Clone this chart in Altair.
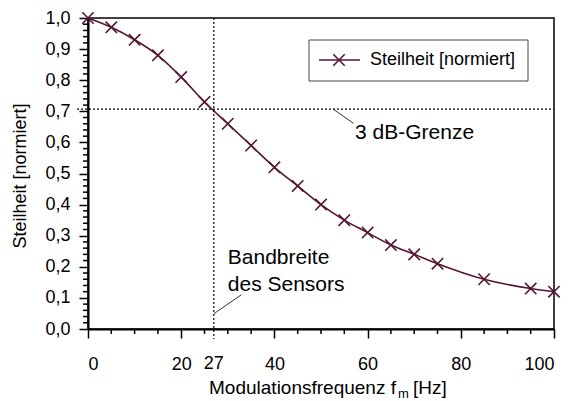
import altair as alt
import pandas as pd

# ---- data ----
freq = [0, 5, 10, 15, 20, 25, 30, 35, 40, 45, 50, 55, 60, 65, 70, 75, 85, 95, 100]
steil = [1.0, 0.97, 0.93, 0.88, 0.81, 0.73, 0.66, 0.59, 0.52, 0.46, 0.40, 0.35,
         0.31, 0.27, 0.24, 0.21, 0.16, 0.13, 0.12]
x_major = [0, 20, 40, 60, 80, 100]
x_minor = [5, 10, 15, 25, 30, 35, 45, 50, 55, 65, 70, 75, 85, 90, 95]
y_major = [0.0, 0.1, 0.2, 0.3, 0.4, 0.5, 0.6, 0.7, 0.8, 0.9, 1.0]
y_minor = [round(i * 0.02, 2) for i in range(51) if i % 5 != 0]
grenze_y = [0.707]
bandbreite_x = [27]

W, H = 466, 311
COL = "#561530"
FONT = "Liberation Sans"

df = pd.DataFrame({"f": freq, "s": steil})
one = pd.DataFrame({"a": [0]})

xs = alt.Scale(domain=[0, 100], nice=False)
ys = alt.Scale(domain=[0, 1], nice=False)

AX_X = alt.Axis(values=x_major, title=None, labelPadding=17, labelOverlap=False)
AX_Y = alt.Axis(
    values=y_major, title="Steilheit [normiert]", labelOverlap=False,
    labelExpr="replace(format(datum.value, '.1f'), '.', ',')",
    titleX=-68, titleY=H / 2 + 2, titleAngle=-90, titleAlign="center",
    titleBaseline="middle", titleFontSize=18)


def X(field):
    return alt.X(field, scale=xs, axis=AX_X)


def Y(field):
    return alt.Y(field, scale=ys, axis=AX_Y)


base = alt.Chart(df)

line = base.mark_line(color=COL, strokeWidth=1.6, interpolate="monotone").encode(
    x=X("f:Q"), y=Y("s:Q"))
XPATH = "M-1,-1L1,1M-1,1L1,-1"
pts = base.mark_point(shape=XPATH, size=130, color=COL, strokeWidth=1.6,
                      filled=False, opacity=1).encode(x=X("f:Q"), y=Y("s:Q"))

hline = alt.Chart(pd.DataFrame({"y": grenze_y})).mark_rule(
    color="black", strokeDash=[2, 2], strokeWidth=1.2).encode(
    y=Y("y:Q"), x=alt.value(-11), x2=alt.value(W))
vline = alt.Chart(pd.DataFrame({"x": bandbreite_x})).mark_rule(
    color="black", strokeDash=[2, 2], strokeWidth=1.2).encode(
    x=X("x:Q"), y=alt.value(0), y2=alt.value(H + 10))
lbl27 = alt.Chart(pd.DataFrame({"x": bandbreite_x})).mark_text(
    font=FONT, fontSize=18, baseline="top", color="black").encode(
    x=X("x:Q"), y=alt.value(H + 26), text=alt.value("27"))

xmin = alt.Chart(pd.DataFrame({"x": x_minor})).mark_rule(color="black", strokeWidth=1.5).encode(
    x=X("x:Q"), y=alt.value(H), y2=alt.value(H + 5))
ymin = alt.Chart(pd.DataFrame({"y": y_minor})).mark_rule(color="black", strokeWidth=1.5).encode(
    y=Y("y:Q"), x=alt.value(0), x2=alt.value(-5))

# annotations
ann = pd.DataFrame({
    "x": [57.3, 30.0, 30.0],
    "y": [0.611, 0.21, 0.123],
    "t": ["3 dB-Grenze", "Bandbreite", "des Sensors"],
})
ann_txt = alt.Chart(ann).mark_text(font=FONT, fontSize=21, align="left",
                                   baseline="alphabetic", color="black").encode(
    x=X("x:Q"), y=Y("y:Q"), text="t:N")
leaders = pd.DataFrame({
    "x": [52.6, 32.9], "x2": [57.0, 27.0],
    "y": [0.707, 0.11], "y2": [0.661, 0.049],
})
lead = alt.Chart(leaders).mark_rule(color="black", strokeWidth=0.8).encode(
    x=X("x:Q"), x2="x2:Q", y=Y("y:Q"), y2="y2:Q")

# legend
leg_box = alt.Chart(one).mark_rect(fill="white", stroke="#444", strokeWidth=1).encode(
    x=alt.value(221), x2=alt.value(440), y=alt.value(22), y2=alt.value(63))
leg_line = alt.Chart(one).mark_rule(color=COL, strokeWidth=1.6).encode(
    x=alt.value(231), x2=alt.value(272), y=alt.value(42))
leg_pt = alt.Chart(one).mark_point(shape=XPATH, size=130, color=COL, strokeWidth=1.6,
                                   filled=False, opacity=1).encode(
    x=alt.value(251), y=alt.value(42))
leg_txt = alt.Chart(one).mark_text(font=FONT, fontSize=18, align="left",
                                   baseline="middle", color="black").encode(
    x=alt.value(282), y=alt.value(42), text=alt.value("Steilheit [normiert]"))

# x title with subscript
xt1 = alt.Chart(one).mark_text(font=FONT, fontSize=19, align="right",
                               baseline="alphabetic", color="black").encode(
    x=alt.value(308), y=alt.value(376), text=alt.value("Modulationsfrequenz f"))
xt2 = alt.Chart(one).mark_text(font=FONT, fontSize=13, align="left",
                               baseline="alphabetic", color="black").encode(
    x=alt.value(310), y=alt.value(380), text=alt.value("m"))
xt3 = alt.Chart(one).mark_text(font=FONT, fontSize=19, align="left",
                               baseline="alphabetic", color="black").encode(
    x=alt.value(325), y=alt.value(376), text=alt.value("[Hz]"))

chart = alt.layer(
    line, hline, vline, xmin, ymin, lead, pts, ann_txt, lbl27,
    leg_box, leg_line, leg_pt, leg_txt, xt1, xt2, xt3,
).properties(
    width=W, height=H,
    autosize=alt.AutoSizeParams(type="none"),
    padding={"left": 80, "top": 10, "right": 8, "bottom": 75},
).configure_view(
    stroke="black", strokeWidth=1.5,
).configure_axis(
    domainColor="black", domainWidth=2, tickColor="black", tickWidth=1.5,
    tickSize=9, grid=False, labelFont=FONT, labelFontSize=18, labelColor="black",
    titleFont=FONT, titleFontWeight="normal", titleColor="black",
    labelPadding=9, labelOverlap=False,
).configure_axisX(labelPadding=17)

chart.save("out.html", embed_options={"renderer": "svg", "actions": False})
